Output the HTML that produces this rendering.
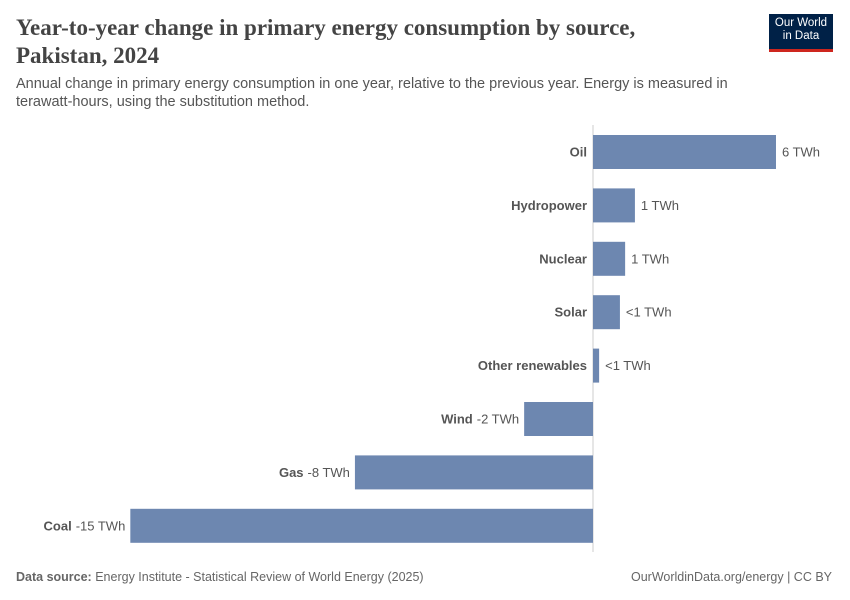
<!DOCTYPE html>
<html><head><meta charset="utf-8"><style>
body{margin:0;width:850px;height:600px;background:#fff;font-family:"Liberation Sans",sans-serif;position:relative;overflow:hidden}
.t{position:absolute;margin:0}
</style></head><body>
<h1 class="t" style="left:16px;top:14px;font-family:'Liberation Serif',serif;font-size:23px;font-weight:bold;color:#444;line-height:28px;width:640px">Year-to-year change in primary energy consumption by source, Pakistan, 2024</h1>
<div class="t" style="left:769px;top:14px;width:64px;height:38px;background:#002147;border-bottom:3px solid #ce261e;color:#fff;font-size:11.5px;line-height:13px;text-align:center;padding-top:3px;box-sizing:border-box">Our World<br>in Data</div>
<p class="t" style="left:16px;top:75px;font-size:14.5px;color:#555;line-height:18px;width:740px">Annual change in primary energy consumption in one year, relative to the previous year. Energy is measured in terawatt-hours, using the substitution method.</p>
<svg id="chart" style="position:absolute;left:0;top:0" width="850" height="600"></svg>
<div class="t" style="left:16px;top:570px;font-size:12.5px;color:#666"><b>Data source:</b> Energy Institute - Statistical Review of World Energy (2025)</div>
<div class="t" style="right:18px;top:570px;font-size:12.5px;color:#666">OurWorldinData.org/energy | CC BY</div>
<script>
const categories=["Oil","Hydropower","Nuclear","Solar","Other renewables","Wind","Gas","Coal"];
const values=[5.98,1.37,1.05,0.88,0.2,-2.25,-7.78,-15.12];
const valueLabels=["6 TWh","1 TWh","1 TWh","<1 TWh","<1 TWh","-2 TWh","-8 TWh","-15 TWh"];
const svg=document.getElementById('chart');const NS='http://www.w3.org/2000/svg';
const x0=593,scale=30.6,yTop=135,step=53.4,bh=34;
const x=v=>x0+v*scale;
function mk(tag,attrs){const e=document.createElementNS(NS,tag);for(const k in attrs)e.setAttribute(k,attrs[k]);svg.appendChild(e);return e;}
const ax=mk('line',{x1:x0,x2:x0,y1:125,y2:552,stroke:'#ccc'});


categories.forEach((c,i)=>{
 const v=values[i],y=yTop+i*step,xa=Math.min(x(0),x(v)),w=Math.abs(x(v)-x(0));
 const r=mk('rect',{x:xa,y:y,width:w,height:bh,fill:'#6d87b0'});
 
 
 const cy=y+bh/2+4.5;
 if(v>=0){
  const l=mk('text',{x:x0-6,y:cy,'text-anchor':'end','font-size':13,'font-weight':'bold',fill:'#555'});l.textContent=c;
  
  
  const t=mk('text',{x:x(v)+6,y:cy,'font-size':13,fill:'#555'});t.textContent=valueLabels[i];
  
  
 }else{
  const t=mk('text',{x:x(v)-5,y:cy,'text-anchor':'end','font-size':13,fill:'#555'});t.textContent=valueLabels[i];
  
  
  const tw=t.getComputedTextLength();
  const l=mk('text',{x:x(v)-9-tw,y:cy,'text-anchor':'end','font-size':13,'font-weight':'bold',fill:'#555'});l.textContent=c;
  
  
 }
});
</script>
</body></html>
